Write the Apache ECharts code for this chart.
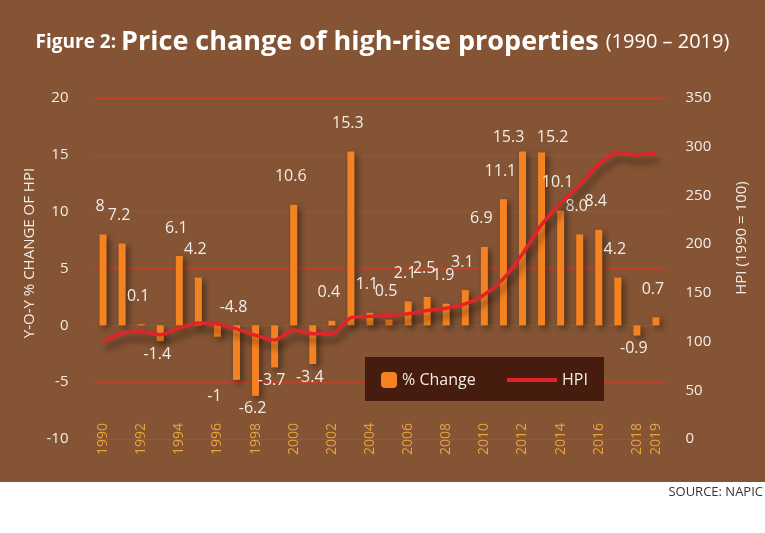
<!DOCTYPE html>
<html>
<head>
<meta charset="utf-8">
<script src="https://cdn.jsdelivr.net/npm/echarts@6/dist/echarts.min.js"></script>
<style>html,body{margin:0;padding:0;background:#fff}#c{width:765px;height:533px}</style>
</head>
<body>
<div id="c"></div>
<script>
const years = ['1990','1991','1992','1993','1994','1995','1996','1997','1998','1999','2000','2001','2002','2003','2004','2005','2006','2007','2008','2009','2010','2011','2012','2013','2014','2015','2016','2017','2018','2019'];
const pctChange = [8, 7.2, 0.1, -1.4, 6.1, 4.2, -1, -4.8, -6.2, -3.7, 10.6, -3.4, 0.4, 15.3, 1.1, 0.5, 2.1, 2.5, 1.9, 3.1, 6.9, 11.1, 15.3, 15.2, 10.1, 8.0, 8.4, 4.2, -0.9, 0.7];
const pctLabels = ['8','7.2','0.1','-1.4','6.1','4.2','-1','-4.8','-6.2','-3.7','10.6','-3.4','0.4','15.3','1.1','0.5','2.1','2.5','1.9','3.1','6.9','11.1','15.3','15.2','10.1','8.0','8.4','4.2','-0.9','0.7'];
const hpi = [100, 108.5, 110, 107, 114, 119, 118, 113, 106.5, 101.5, 112, 108, 108, 124.5, 126, 126.8, 128.5, 131.8, 134.2, 138.7, 148, 164.6, 190, 220, 242, 261, 282, 294, 291.6, 293.3];

// label placement tweaks (style, not data)
const labelShift = {'1996': [0, 47], '1997': [0, -85], '2012': [-11, 14], '2013': [14, 13]};

const barData = pctChange.map((v, i) => {
  const s = labelShift[years[i]] || [0, 0];
  return {
    value: v,
    label: {
      position: v >= 0 ? 'top' : 'bottom',
      distance: v >= 0 ? 20 : 5,
      offset: [-3 + s[0], s[1]],
      formatter: () => pctLabels[i]
    }
  };
});

const chart = echarts.init(document.getElementById('c'), null, {renderer: 'canvas'});
const F = '"Open Sans", sans-serif';
chart.setOption({
  backgroundColor: '#845434',
  animation: false,
  title: {
    text: '{a|Figure 2: }{b|Price change of high-rise properties }{c|(1990 – 2019)}',
    left: 'center', top: 24,
    textStyle: {
      rich: {
        a: {fontFamily: F, fontWeight: 'bold', fontSize: 19, color: '#ffffff'},
        b: {fontFamily: F, fontWeight: 'bold', fontSize: 27, color: '#ffffff'},
        c: {fontFamily: F, fontWeight: 'normal', fontSize: 20, color: '#ffffff'}
      }
    }
  },
  graphic: [
    {type: 'rect', z: -100, shape: {x: 0, y: 482, width: 765, height: 51}, style: {fill: '#ffffff'}},
    {type: 'rect', z: 3, shape: {x: 365, y: 357, width: 239, height: 44}, style: {fill: '#451c0e'}},
    {type: 'text', z: 5, x: 30, y: 253, rotation: Math.PI / 2,
      style: {text: 'Y-O-Y % CHANGE OF HPI', align: 'center', verticalAlign: 'middle', fill: '#f3ede6', font: '15px "Open Sans", sans-serif'}},
    {type: 'text', z: 5, x: 742, y: 238, rotation: Math.PI / 2,
      style: {text: 'HPI (1990 = 100)', align: 'center', verticalAlign: 'middle', fill: '#f3ede6', font: '15px "Open Sans", sans-serif'}},
    {type: 'text', z: 5, x: 763, y: 492,
      style: {text: 'SOURCE: NAPIC', align: 'right', verticalAlign: 'middle', fill: '#333333', font: '13px "Open Sans", sans-serif'}}
  ],
  legend: [
    {data: ['% Change'], left: 381, top: 372, padding: 0, itemWidth: 16, itemHeight: 16, z: 6,
      textStyle: {color: '#f3ede6', fontSize: 16, fontFamily: F}},
    {data: [{name: 'HPI', icon: 'rect'}], left: 507, top: 372, padding: 0, itemWidth: 50, itemHeight: 4, z: 6,
      textStyle: {color: '#f3ede6', fontSize: 16, fontFamily: F}}
  ],
  grid: {left: 93.5, right: 99.5, top: 98, bottom: 94},
  xAxis: {
    type: 'category', data: years,
    axisLine: {show: false}, axisTick: {show: false},
    axisLabel: {
      rotate: 90, margin: -16, color: '#eaa43a', fontSize: 14, fontFamily: F,
      interval: (idx) => idx % 2 === 0 || idx === years.length - 1
    }
  },
  yAxis: [
    {type: 'value', min: -10, max: 20, interval: 5,
      axisLine: {show: false}, axisTick: {show: false},
      axisLabel: {color: '#f3ede6', fontSize: 15, fontFamily: F, margin: 25},
      splitLine: {lineStyle: {color: '#c4432c', width: 1}}},
    {type: 'value', min: 0, max: 350, interval: 50, position: 'right',
      axisLine: {show: false}, axisTick: {show: false},
      axisLabel: {color: '#f3ede6', fontSize: 15, fontFamily: F, margin: 20},
      splitLine: {show: false}}
  ],
  series: [
    {name: '% Change', type: 'bar', data: barData, barWidth: 7, yAxisIndex: 0,
      itemStyle: {color: '#f58220', shadowColor: 'rgba(0,0,0,0.45)', shadowBlur: 6, shadowOffsetX: 3, shadowOffsetY: 3},
      label: {show: true, color: '#f3ede6', fontSize: 16, fontFamily: F}},
    {name: 'HPI', type: 'line', data: hpi, yAxisIndex: 1, symbol: 'none', smooth: 0.25, z: 4,
      lineStyle: {color: '#e3232a', width: 3.5, shadowColor: 'rgba(0,0,0,0.45)', shadowBlur: 6, shadowOffsetX: 3, shadowOffsetY: 7},
      itemStyle: {color: '#e3232a'}}
  ]
});
</script>
</body>
</html>
